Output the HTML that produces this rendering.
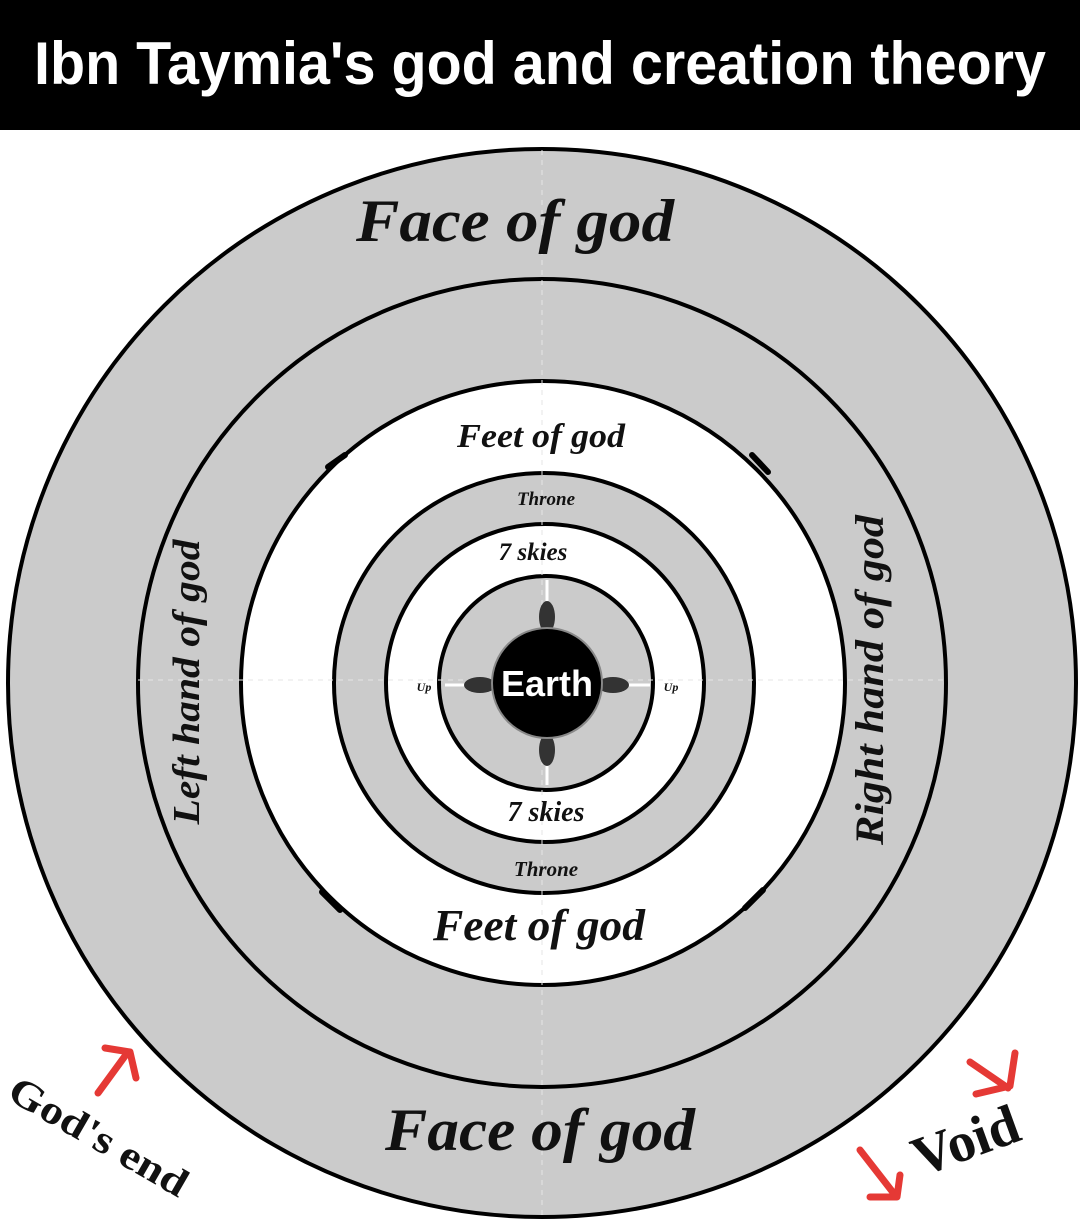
<!DOCTYPE html>
<html><head><meta charset="utf-8"><style>
html,body{margin:0;padding:0;background:#fff;}
svg{display:block;}
.s{font-family:"Liberation Serif","DejaVu Serif",serif;font-style:italic;font-weight:bold;fill:#111;}
</style></head><body>
<svg width="1080" height="1221" viewBox="0 0 1080 1221" xmlns="http://www.w3.org/2000/svg">
<rect x="0" y="0" width="1080" height="1221" fill="#fff"/>
<rect x="0" y="0" width="1080" height="130" fill="#000"/>
<text x="540" y="84" text-anchor="middle" font-family="Liberation Sans, sans-serif" font-weight="bold" font-size="60" fill="#fff" textLength="1012" lengthAdjust="spacingAndGlyphs">Ibn Taymia's god and creation theory</text>

<g stroke="#000" stroke-width="4">
<circle cx="542" cy="683" r="534" fill="#cbcbcb"/>
<circle cx="542" cy="683" r="404" fill="#cbcbcb"/>
<circle cx="543" cy="683" r="302" fill="#fff"/>
<circle cx="544" cy="683" r="210" fill="#cbcbcb"/>
<circle cx="545" cy="683" r="159" fill="#fff"/>
<circle cx="546" cy="683" r="107" fill="#cbcbcb"/>
</g>
<g stroke="#e4e4e4" stroke-width="1" stroke-dasharray="5,5">
<line x1="138" y1="680" x2="945" y2="680"/>
<line x1="542" y1="150" x2="542" y2="1215"/>
</g>
<g stroke="#000" stroke-width="6" stroke-linecap="round">
<line x1="328" y1="467" x2="345" y2="455"/>
<line x1="752" y1="455" x2="768" y2="472"/>
<line x1="322" y1="892" x2="340" y2="910"/>
<line x1="745" y1="908" x2="763" y2="890"/>
</g>
<g stroke="#fff" stroke-width="3">
<line x1="547" y1="580" x2="547" y2="630"/>
<line x1="547" y1="735" x2="547" y2="785"/>
<line x1="445" y1="685" x2="495" y2="685"/>
<line x1="600" y1="685" x2="650" y2="685"/>
</g>
<g fill="#333">
<ellipse cx="547" cy="617" rx="8" ry="16"/>
<ellipse cx="547" cy="750" rx="8" ry="16"/>
<ellipse cx="480" cy="685" rx="16" ry="8"/>
<ellipse cx="613" cy="685" rx="16" ry="8"/>
</g>
<circle cx="547" cy="683" r="55" fill="#000" stroke="#888" stroke-width="2"/>
<text x="547" y="696" text-anchor="middle" font-family="Liberation Sans, sans-serif" font-weight="bold" font-size="36" fill="#fff">Earth</text>
<text x="424" y="691" text-anchor="middle" class="s" font-size="12">Up</text>
<text x="671" y="691" text-anchor="middle" class="s" font-size="12">Up</text>

<text x="515" y="241" text-anchor="middle" class="s" font-size="60" textLength="318" lengthAdjust="spacingAndGlyphs">Face of god</text>
<text x="540" y="1150" text-anchor="middle" class="s" font-size="60" textLength="310" lengthAdjust="spacingAndGlyphs">Face of god</text>
<text x="541" y="447" text-anchor="middle" class="s" font-size="34" textLength="168" lengthAdjust="spacingAndGlyphs">Feet of god</text>
<text x="539" y="940" text-anchor="middle" class="s" font-size="44" textLength="212" lengthAdjust="spacingAndGlyphs">Feet of god</text>
<text x="546" y="505" text-anchor="middle" class="s" font-size="19">Throne</text>
<text x="546" y="876" text-anchor="middle" class="s" font-size="21">Throne</text>
<text x="533" y="560" text-anchor="middle" class="s" font-size="25">7 skies</text>
<text x="546" y="821" text-anchor="middle" class="s" font-size="28">7 skies</text>
<text transform="translate(199,682) rotate(-90)" text-anchor="middle" class="s" font-size="38" textLength="285" lengthAdjust="spacingAndGlyphs">Left hand of god</text>
<text transform="translate(883,680) rotate(-90)" text-anchor="middle" class="s" font-size="40" textLength="330" lengthAdjust="spacingAndGlyphs">Right hand of god</text>
<text transform="translate(92,1148) rotate(30)" text-anchor="middle" class="s" font-size="40" style="font-style:normal" textLength="200" lengthAdjust="spacingAndGlyphs">God's end</text>
<text transform="translate(972,1158) rotate(-20)" text-anchor="middle" class="s" font-size="56" style="font-style:normal">Void</text>
<g stroke="#e53935" stroke-width="7" fill="none" stroke-linecap="round" stroke-linejoin="round">
<path d="M98 1093 L128 1052"/><path d="M105 1048 L130 1052 L136 1078"/>
<path d="M1015 1053 L1010 1086 L976 1094"/><path d="M970 1062 L1008 1088"/>
<path d="M860 1150 L895 1195"/><path d="M870 1197 L897 1197 L900 1175"/>
</g>
</svg>
</body></html>
